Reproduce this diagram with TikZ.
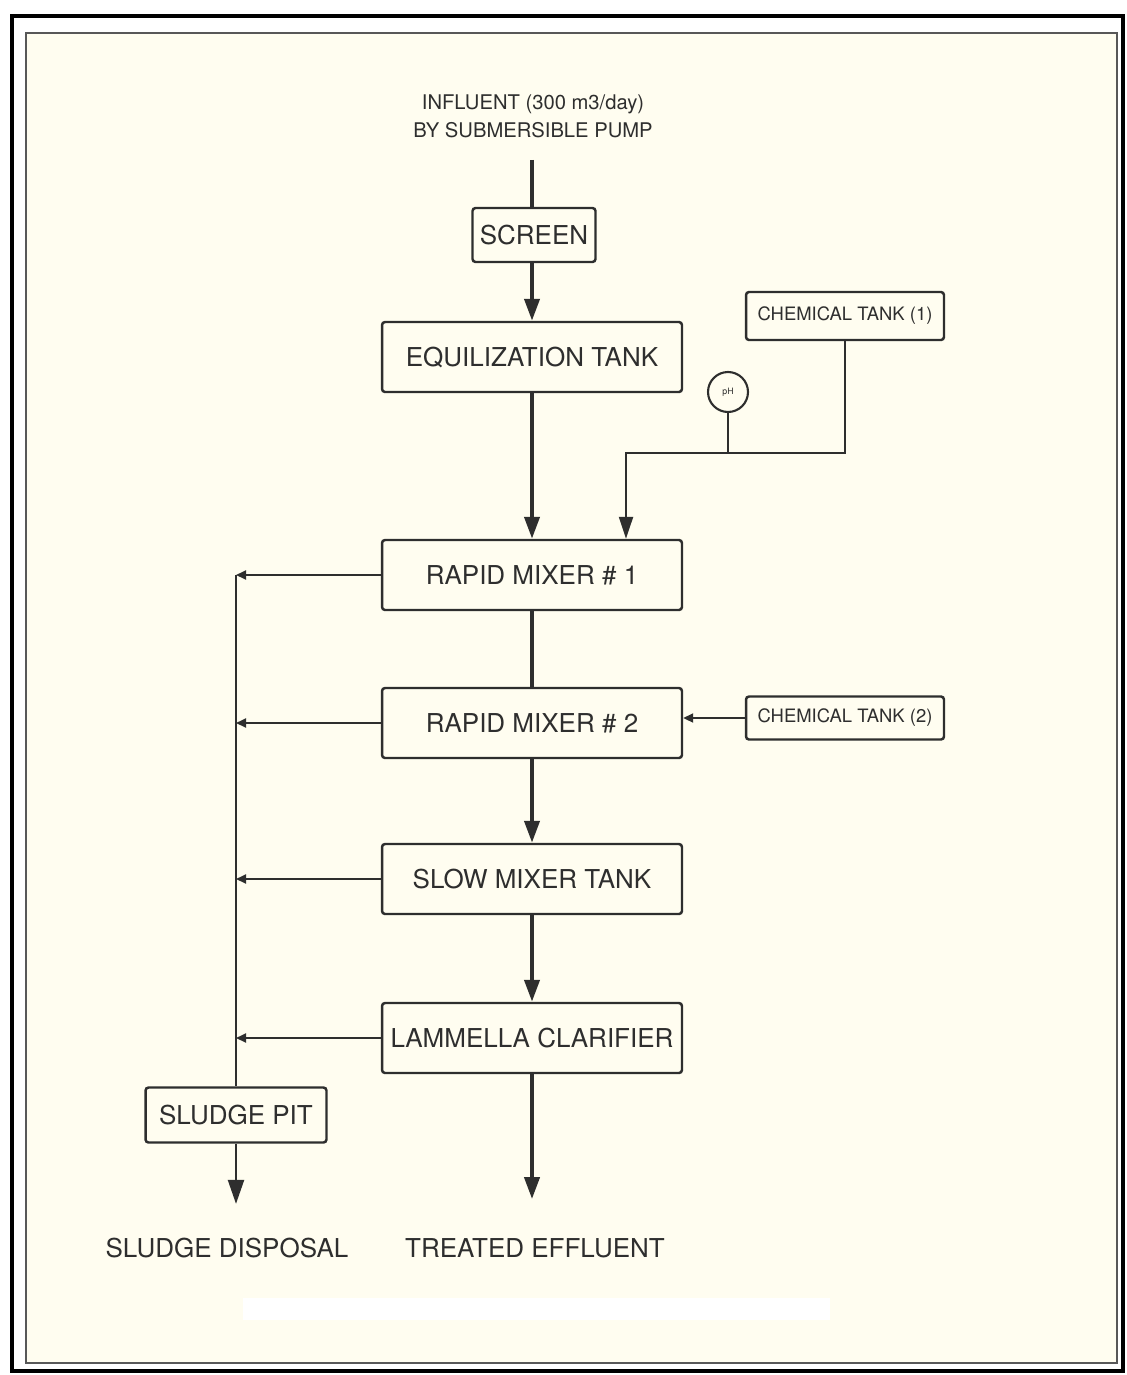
\documentclass[tikz,border=0pt]{standalone}
\usepackage{fontspec}
\setmainfont{TeX Gyre Heros}
\usetikzlibrary{arrows.meta,calc}
\definecolor{paper}{HTML}{FFFDF0}
\definecolor{ink}{HTML}{2E2E2E}
\tikzset{
    unit/.style={draw=ink,line width=1.4pt,rounded corners=0.6mm,
        minimum width=6cm,minimum height=1.4cm,inner sep=0pt,
        text=ink,font=\fontsize{14.8}{16}\selectfont},
    tank/.style={unit,minimum width=3.96cm,minimum height=0.96cm,
        font=\fontsize{10.5}{12}\selectfont},
    main/.style={draw=ink,line width=2.3pt,
        -{Triangle[length=0.44cm,width=0.3cm]}},
    trunk/.style={draw=ink,line width=2.3pt},
    feed/.style={draw=ink,line width=1.3pt},
    side/.style={draw=ink,line width=1.1pt,
        -{Triangle[length=0.2cm,width=0.18cm]}},
    caption/.style={text=ink,font=\fontsize{14.8}{16}\selectfont},
}

\begin{document}
\begin{tikzpicture}[x=0.02cm,y=-0.02cm]
    \useasboundingbox (0,0) rectangle (1126,1375);
    \fill[white] (0,0) rectangle (1126,1375);
    \fill[paper] (26,33) rectangle (1117,1363);
    \draw[black,line width=2pt] (12,16) rectangle (1123,1371);
    \draw[ink!80,line width=1.4pt] (26,33) rectangle (1117,1363);
    \fill[white] (243,1298) rectangle (830,1320);

    \node[text=ink,align=center,font=\fontsize{11.5}{16}\selectfont]
        (influent) at (533,116) {INFLUENT (300 m3/day)\\BY SUBMERSIBLE PUMP};
    \coordinate (inlet) at (532,160);
    \node[unit,minimum width=2.46cm,minimum height=1.08cm]
        (screen) at (534,235) {SCREEN};
    \node[unit] (eq) at (532,357) {EQUILIZATION TANK};
    \node[unit] (rm1) at (532,575) {RAPID MIXER \# 1};
    \node[unit] (rm2) at (532,723) {RAPID MIXER \# 2};
    \node[unit] (slow) at (532,879) {SLOW MIXER TANK};
    \node[unit] (clar) at (532,1038) {LAMMELLA CLARIFIER};
    \node[tank] (chem1) at (845,316) {CHEMICAL TANK (1)};
    \node[tank,minimum height=0.86cm] (chem2) at (845,718) {CHEMICAL TANK (2)};
    \node[draw=ink,line width=1.2pt,circle,minimum size=0.8cm,inner sep=0pt,
        text=ink,font=\fontsize{5}{6}\selectfont] (ph) at (728,392) {pH};
    \coordinate (tee) at (728,453);
    \node[unit,minimum width=3.62cm,minimum height=1.1cm]
        (pit) at (236,1115) {SLUDGE PIT};
    \node[caption] (disposal) at (227,1248) {SLUDGE DISPOSAL};
    \node[caption] (effluent) at (535,1248) {TREATED EFFLUENT};

    \draw[trunk] (inlet) -- (inlet |- screen.north);
    \draw[main] (inlet |- screen.south) -- (eq);
    \draw[main] (eq) -- (rm1);
    \draw[trunk] (rm1) -- (rm2);
    \draw[main] (rm2) -- (slow);
    \draw[main] (slow) -- (clar);
    \draw[main,shorten >=0.66cm] (clar.south) -- (clar.south |- effluent.north);

    \draw[feed,-{Triangle[length=0.44cm,width=0.28cm]}]
        (chem1.south) |- (tee) -| ($(rm1.north)+(94,0)$);
    \draw[feed] (ph) -- (tee);
    \draw[side] (chem2.west) -- (chem2.west -| rm2.east);

    \draw[side] (rm1.west) -- (rm1.west -| pit.north);
    \draw[side] (rm2.west) -- (rm2.west -| pit.north);
    \draw[side] (slow.west) -- (slow.west -| pit.north);
    \draw[side] (clar.west) -- (clar.west -| pit.north);
    \draw[feed] (rm1.west -| pit.north) -- (pit.north);
    \draw[feed,-{Triangle[length=0.48cm,width=0.32cm]},shorten >=0.56cm]
        (pit.south) -- (pit.south |- disposal.north);
\end{tikzpicture}
\end{document}
